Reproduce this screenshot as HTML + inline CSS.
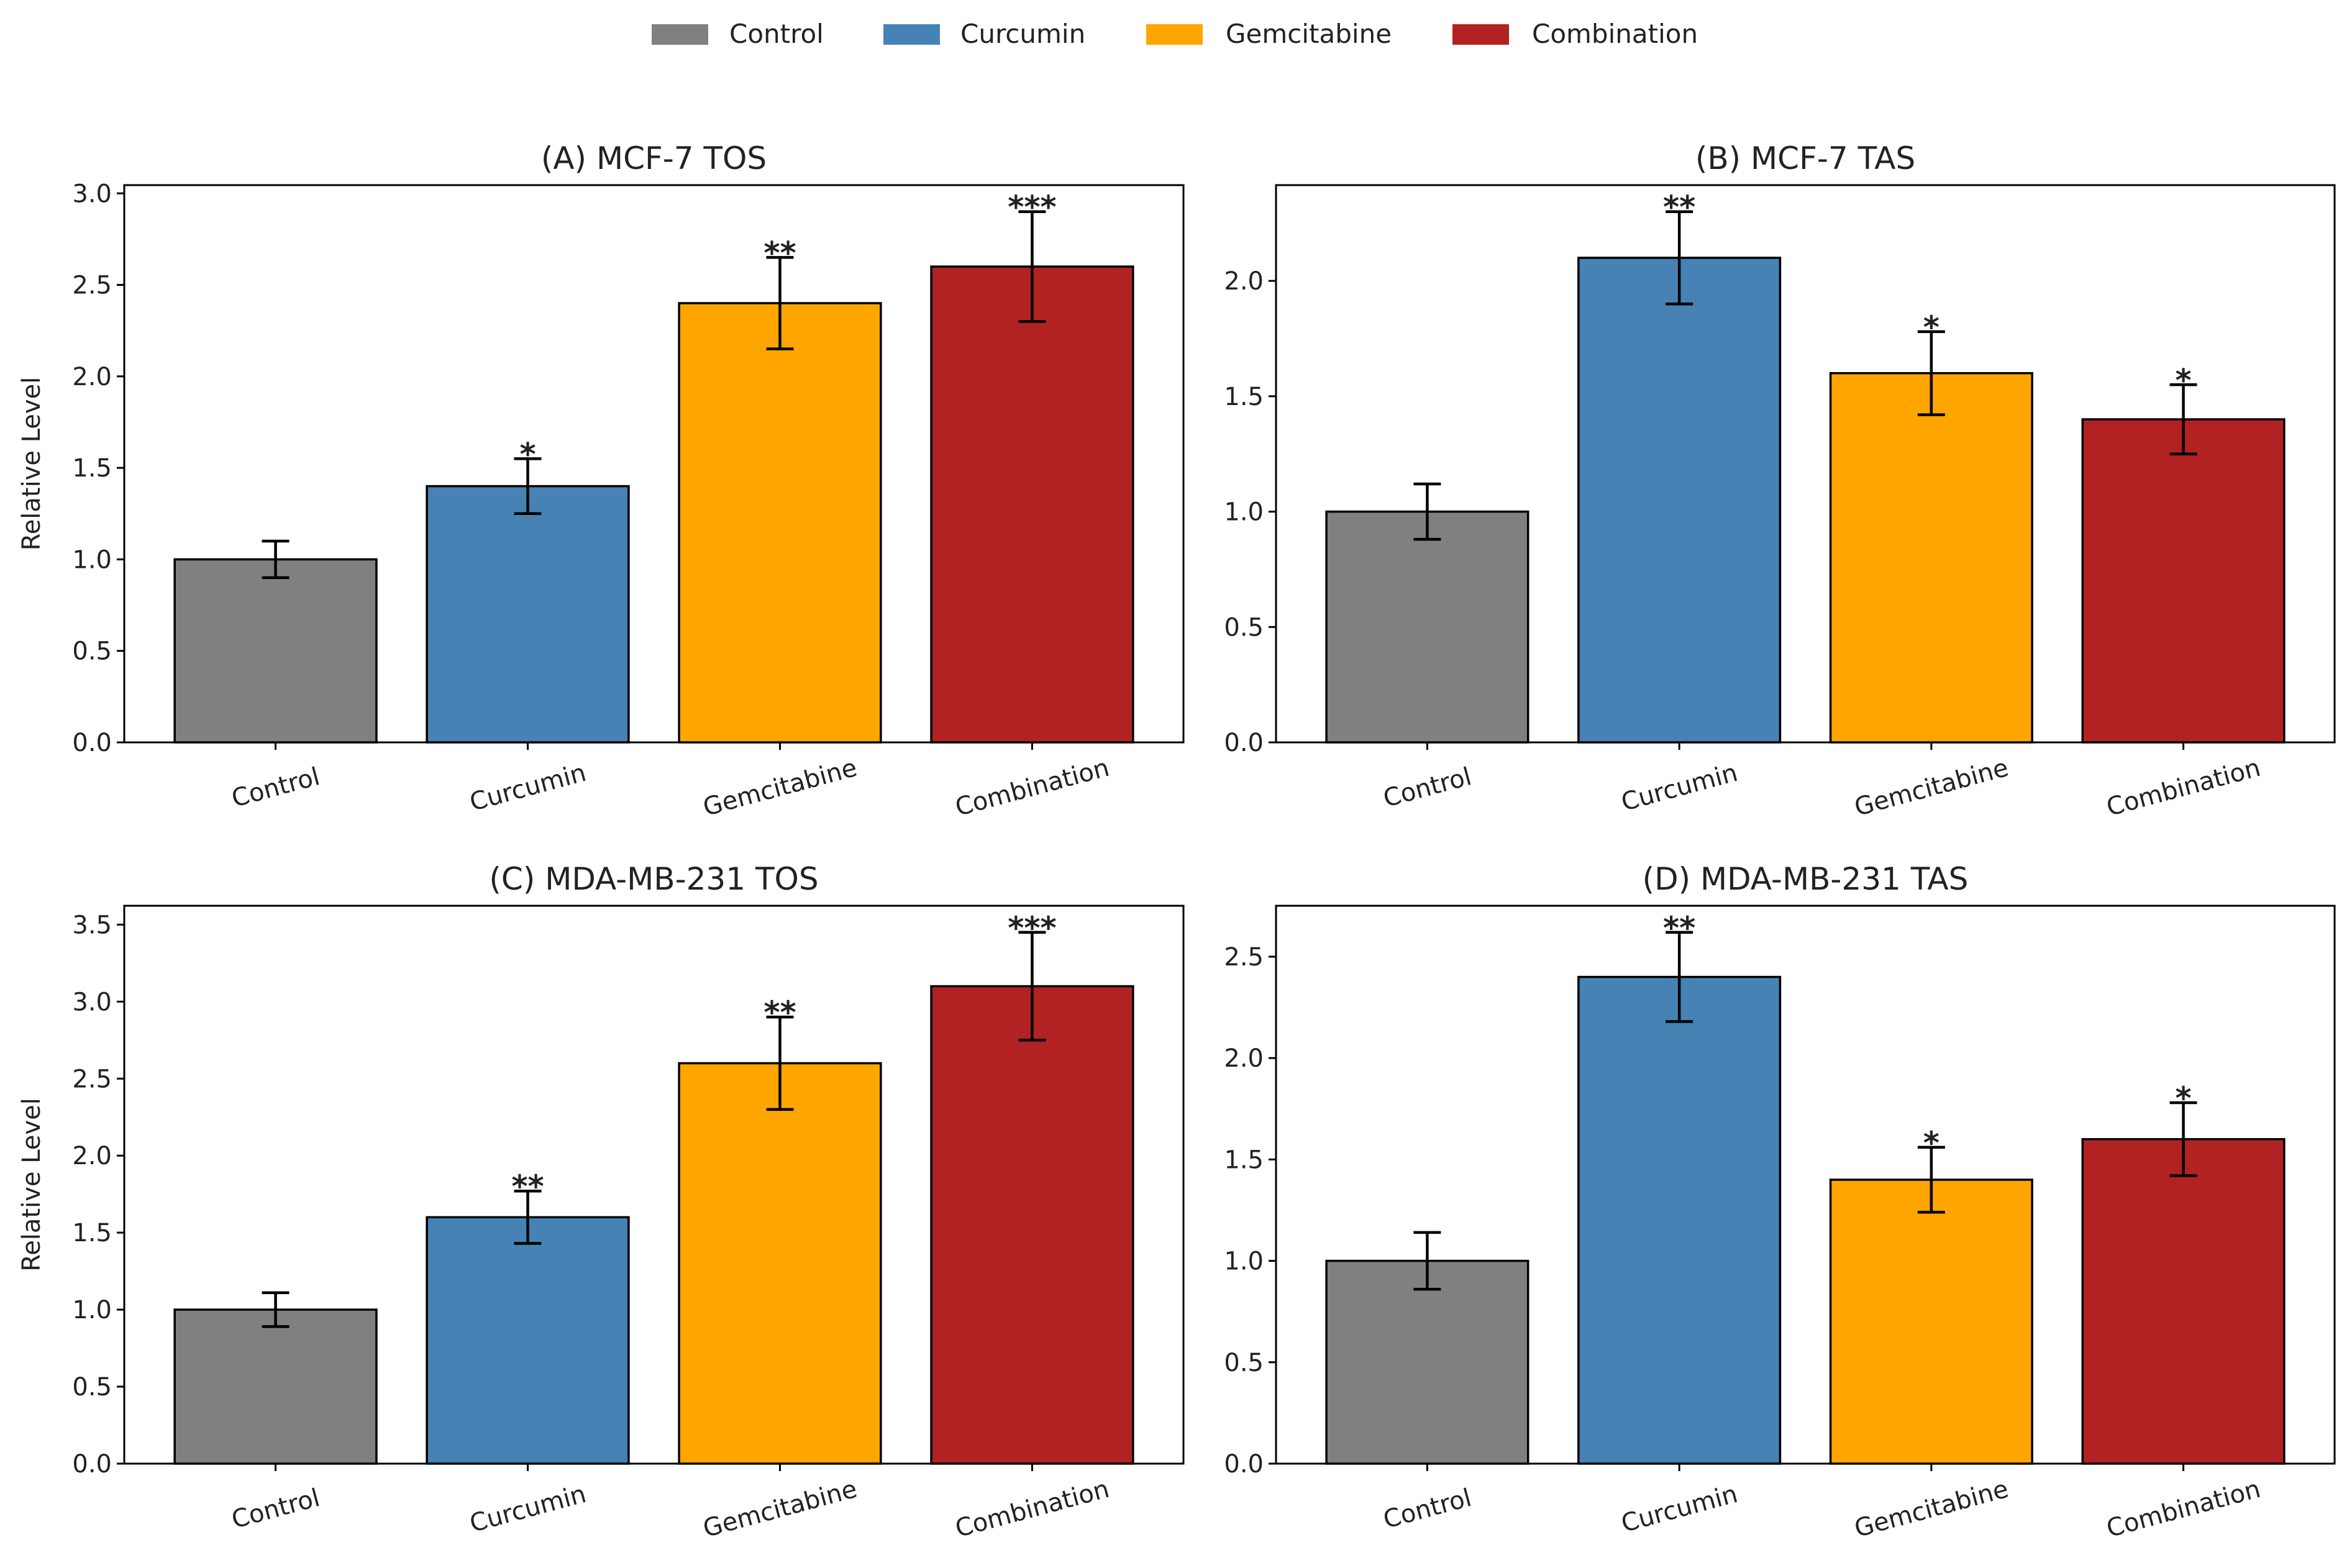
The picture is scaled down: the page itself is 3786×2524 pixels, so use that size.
<!DOCTYPE html>
<html><head><meta charset="utf-8"><style>
html,body{margin:0;padding:0;background:#fff;}
svg{display:block;font-family:"DejaVu Sans","Liberation Sans",sans-serif;}
</style></head><body>
<svg id="fig" width="3786" height="2524" viewBox="0 0 3786 2524" xmlns="http://www.w3.org/2000/svg">
<g id="legend">
 <g><rect x="1049" y="39" width="91" height="33" fill="#808080"/><text x="1174" y="69" font-size="42" fill="#222">Control</text></g>
 <g><rect x="1422" y="39" width="91" height="33" fill="#4682b4"/><text x="1546" y="69" font-size="42" fill="#222">Curcumin</text></g>
 <g><rect x="1845" y="39" width="91" height="33" fill="#ffa500"/><text x="1973" y="69" font-size="42" fill="#222">Gemcitabine</text></g>
 <g><rect x="2338" y="39" width="91" height="33" fill="#b22222"/><text x="2466" y="69" font-size="42" fill="#222">Combination</text></g>
</g>
</svg>
<script>
const categories = ["Control","Curcumin","Gemcitabine","Combination"];
const colors = ["#808080","#4682b4","#ffa500","#b22222"];
const titles = ["(A) MCF-7 TOS","(B) MCF-7 TAS","(C) MDA-MB-231 TOS","(D) MDA-MB-231 TAS"];
const valuesA = [1.0,1.4,2.4,2.6];
const errorsA = [0.1,0.15,0.25,0.3];
const starsA = ["","*","**","***"];
const valuesB = [1.0,2.1,1.6,1.4];
const errorsB = [0.12,0.2,0.18,0.15];
const starsB = ["","**","*","*"];
const valuesC = [1.0,1.6,2.6,3.1];
const errorsC = [0.11,0.17,0.3,0.35];
const starsC = ["","**","**","***"];
const valuesD = [1.0,2.4,1.4,1.6];
const errorsD = [0.14,0.22,0.16,0.18];
const starsD = ["","**","*","*"];
const ticksA = [0,0.5,1.0,1.5,2.0,2.5,3.0];
const ticksB = [0,0.5,1.0,1.5,2.0];
const ticksC = [0,0.5,1.0,1.5,2.0,2.5,3.0,3.5];
const ticksD = [0,0.5,1.0,1.5,2.0,2.5];

const NS="http://www.w3.org/2000/svg";
const svg=document.getElementById('fig');
function mk(tag,attrs,parent){const e=document.createElementNS(NS,tag);for(const k in attrs)e.setAttribute(k,attrs[k]);parent.appendChild(e);return e;}

const panels=[
 {x0:200,x1:1905,y0:298,y1:1195,v:valuesA,e:errorsA,s:starsA,t:ticksA,title:titles[0],ylab:true,key:'a'},
 {x0:2054,x1:3758,y0:298,y1:1195,v:valuesB,e:errorsB,s:starsB,t:ticksB,title:titles[1],ylab:false,key:'b'},
 {x0:200,x1:1905,y0:1458,y1:2356,v:valuesC,e:errorsC,s:starsC,t:ticksC,title:titles[2],ylab:true,key:'c'},
 {x0:2054,x1:3758,y0:1458,y1:2356,v:valuesD,e:errorsD,s:starsD,t:ticksD,title:titles[3],ylab:false,key:'d'}
];
panels.forEach(p=>{
 const g=mk('g',{},svg);
 
 
 let ymax=0; p.v.forEach((v,i)=>{ymax=Math.max(ymax,v+p.e[i]);}); ymax*=1.05;
 const xs=c=>p.x0+(c+0.6)/4.2*(p.x1-p.x0);
 const ys=v=>p.y1-v/ymax*(p.y1-p.y0);
 const bw=0.8/4.2*(p.x1-p.x0);
 p.v.forEach((v,i)=>{
  const r=mk('rect',{x:xs(i)-bw/2,y:ys(v),width:bw,height:ys(0)-ys(v),fill:colors[i],stroke:'#000','stroke-width':3.5},g);
  
  
  const hi=ys(v+p.e[i]),lo=ys(v-p.e[i]),cx=xs(i);
  const eg=mk('g',{stroke:'#000','stroke-width':4.5},g);
  
  
  mk('line',{x1:cx,x2:cx,y1:hi,y2:lo},eg);
  mk('line',{x1:cx-22,x2:cx+22,y1:hi,y2:hi},eg);
  mk('line',{x1:cx-22,x2:cx+22,y1:lo,y2:lo},eg);
  if(p.s[i]){
   const st=mk('text',{x:cx,y:hi+10,'font-size':50,'font-weight':'bold','text-anchor':'middle',fill:'#222'},g);
   st.textContent=p.s[i];
   
   
  }
  mk('line',{x1:cx,x2:cx,y1:p.y1,y2:p.y1+12,stroke:'#000','stroke-width':3},g);
  const lx=cx, ly=p.y1+86;
  const tl=mk('text',{x:lx,y:ly,'font-size':40,'text-anchor':'middle',fill:'#222',transform:`rotate(-15 ${lx} ${ly-14})`},g);
  tl.textContent=categories[i];
  
  
 });
 p.t.forEach(t=>{
  const y=ys(t);
  mk('line',{x1:p.x0-12,x2:p.x0,y1:y,y2:y,stroke:'#000','stroke-width':3},g);
  const tt=mk('text',{x:p.x0-20,y:y+14,'font-size':40,'text-anchor':'end',fill:'#222'},g);
  tt.textContent=t.toFixed(1);
  
  
 });
 const fr=mk('rect',{x:p.x0,y:p.y0,width:p.x1-p.x0,height:p.y1-p.y0,fill:'none',stroke:'#000','stroke-width':3},g);
 
 
 const ti=mk('text',{x:(p.x0+p.x1)/2,y:p.y0-26,'font-size':50,'text-anchor':'middle',fill:'#222'},g);
 ti.textContent=p.title;
 
 
 if(p.ylab){
  const cy=(p.y0+p.y1)/2;
  const yl=mk('text',{x:64,y:cy,'font-size':40,'text-anchor':'middle',fill:'#222',transform:`rotate(-90 64 ${cy})`},g);
  yl.textContent='Relative Level';
  
  
 }
});
</script>
</body></html>
